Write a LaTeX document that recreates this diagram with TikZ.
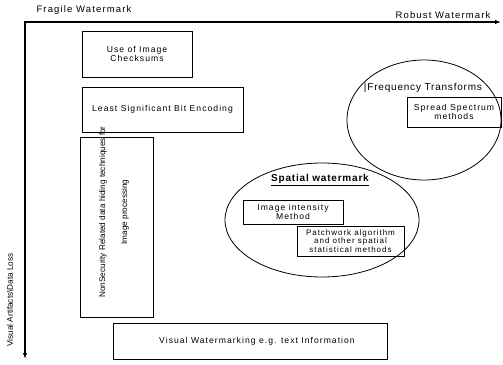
\documentclass[tikz,border=0pt]{standalone}
\usepackage{fontspec}
\setmainfont{Liberation Sans}
\newfontfamily\myspacedA[LetterSpace=12]{Liberation Sans}
\newfontfamily\myspacedB[LetterSpace=8]{Liberation Sans}
\newcommand\myfontS{\myspacedA\fontsize{8.6}{8.6}\selectfont}
\newcommand\myfontT{\myspacedA\fontsize{9.5}{10}\selectfont}
\newcommand\myfontF{\myspacedB\fontsize{10}{11}\selectfont}
\newcommand\myfontSp{\myspacedB\bfseries\fontsize{10}{11}\selectfont}
\newcommand\myfontV{\normalfont\fontsize{8.2}{22}\selectfont}
\usetikzlibrary{shapes.geometric,arrows.meta}
\tikzset{
  box/.style={draw, line width=0.8pt, inner sep=1pt, align=center, font=\myfontS},
  ell/.style={draw, ellipse, line width=0.8pt, inner sep=0pt},
  axisline/.style={line width=#1, -{Latex[length=6pt,width=4.5pt]}},
  lbl/.style={inner sep=0pt, align=center}
}
\begin{document}
\begin{tikzpicture}[x=1pt,y=-1pt]
\useasboundingbox (0,0) rectangle (503,364);
% axes
\coordinate (O) at (25,22);
\coordinate (R) at (501,22);
\coordinate (D) at (25,359);
\draw[axisline=1.4pt] (O) -- (R);
\draw[axisline=2.4pt] (25,21) -- (D);
\node[lbl, font=\myfontT] (fragile) at (84,10) {Fragile Watermark};
\node[lbl, font=\myfontT] (robust) at (443,15) {Robust Watermark};
\node[lbl, font=\myfontV, rotate=90] (vis) at (10,300) {Visual Artifacts\textbackslash Data Loss};
% left boxes
\node[box, minimum width=110pt, minimum height=46pt] (chk) at (137,54) {Use of Image\\Checksums};
\node[box, minimum width=161pt, minimum height=45pt] (lsb) at (162.5,109.5) {Least Significant Bit Encoding};
\node[box, minimum width=73pt, minimum height=180pt] (nonsec) at (116.5,227) {};
\node[lbl, font=\myfontV, rotate=90] (nonsectxt) at (114,212) {NonSecurity Related data hiding techniques for\\Image processing};
\node[box, minimum width=274pt, minimum height=36pt] (visual) at (250,341) {\hspace*{14pt}Visual Watermarking e.g. text Information};
% frequency ellipse
\node[ell, minimum width=154pt, minimum height=120pt] (freq) at (424,120) {};
\node[lbl, font=\myfontF] (freqtxt) at (423,88) {|Frequency Transforms};
\node[box, minimum width=94pt, minimum height=30pt] (spread) at (454,112) {Spread Spectrum\\methods};
% spatial ellipse
\node[ell, minimum width=194pt, minimum height=114pt] (spat) at (322,220) {};
\node[lbl, font=\myfontSp] (spattxt) at (320,180) {\underline{Spatial watermark}};
\node[box, minimum width=100pt, minimum height=24pt] (intens) at (293,212) {Image intensity\\Method};
\node[box, minimum width=107pt, minimum height=30pt, font=\myspacedA\fontsize{8}{8.4}\selectfont] (patch) at (350.5,241) {Patchwork algorithm\\and other spatial\\statistical methods};
\end{tikzpicture}
\end{document}
